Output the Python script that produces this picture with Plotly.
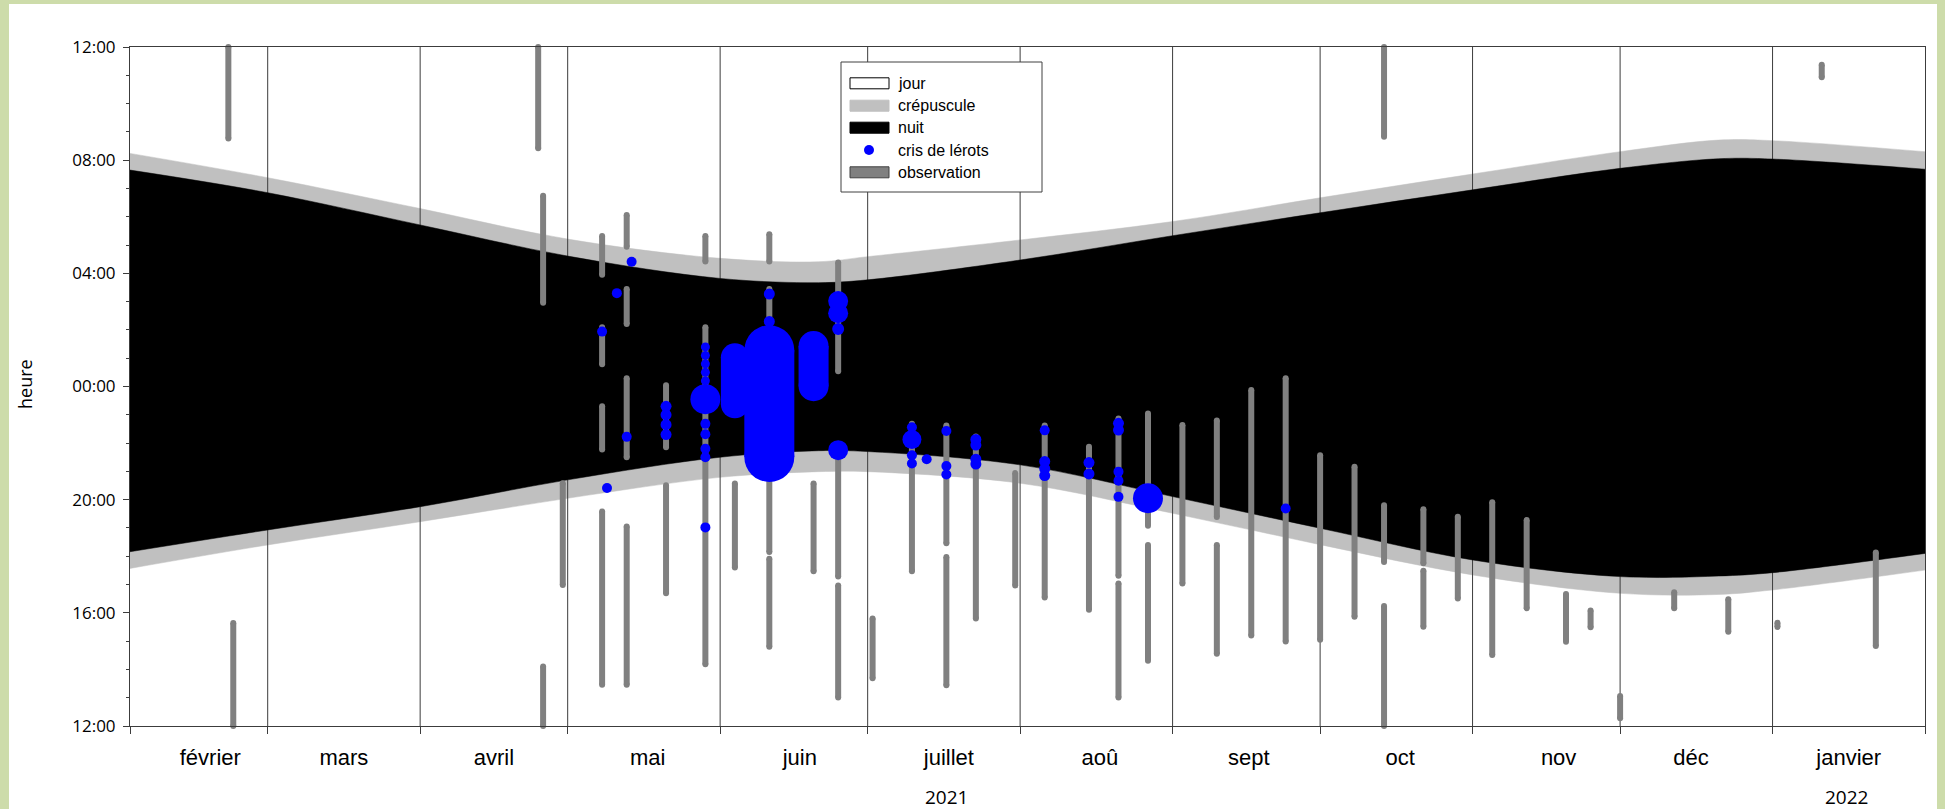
import plotly.graph_objects as go

# ---------------------------------------------------------------------------
# Heures sur l'axe vertical : heures d'horloge de midi (12) à midi le
# lendemain (36) ; après minuit on ajoute 24 (ex. 02:05 -> 26.08).
# ---------------------------------------------------------------------------

# Éphéméride (lever / aube civile / fin du crépuscule / coucher)
soleil_dates = ["2021-02-01", "2021-03-01", "2021-04-01", "2021-05-01",
                "2021-06-01", "2021-06-21", "2021-07-01", "2021-08-01",
                "2021-09-01", "2021-10-01", "2021-11-01", "2021-12-01",
                "2021-12-21", "2022-01-01", "2022-02-01"]
lever = [32.24, 31.38, 30.29, 29.21, 28.53, 28.41, 28.59, 29.18,
         29.83, 30.67, 31.51, 32.30, 32.71, 32.69, 32.30]
aube = [31.65, 30.85, 29.71, 28.61, 27.82, 27.67, 27.77, 28.47,
        29.33, 30.14, 30.95, 31.71, 32.05, 32.04, 31.68]
fin_crepuscule = [18.16, 18.93, 19.75, 20.70, 21.50, 21.73, 21.70, 21.23,
                  20.11, 18.99, 17.87, 17.28, 17.30, 17.42, 18.10]
coucher = [17.57, 18.40, 19.22, 20.05, 20.79, 20.99, 20.99, 20.58,
           19.52, 18.41, 17.34, 16.69, 16.65, 16.81, 17.51]

# Périodes d'observation (date, début, fin)
obs_dates = ["2021-02-21", "2021-02-22", "2021-04-25", "2021-04-26", "2021-04-26",
             "2021-04-30", "2021-05-08", "2021-05-08", "2021-05-08", "2021-05-08",
             "2021-05-13", "2021-05-13", "2021-05-13", "2021-05-13", "2021-05-21",
             "2021-05-21", "2021-05-29", "2021-05-29", "2021-06-04", "2021-06-11",
             "2021-06-11", "2021-06-11", "2021-06-20", "2021-06-25", "2021-06-25",
             "2021-06-25", "2021-07-02", "2021-07-10", "2021-07-17", "2021-07-17",
             "2021-07-23", "2021-07-31", "2021-08-06", "2021-08-15", "2021-08-21",
             "2021-08-21", "2021-08-27", "2021-08-27", "2021-09-03", "2021-09-10",
             "2021-09-10", "2021-09-17", "2021-09-24", "2021-10-01", "2021-10-08",
             "2021-10-14", "2021-10-14", "2021-10-14", "2021-10-22", "2021-10-22",
             "2021-10-29", "2021-11-05", "2021-11-12", "2021-11-20", "2021-11-25",
             "2021-12-01", "2021-12-12", "2021-12-23", "2022-01-02", "2022-01-11",
             "2022-01-22"]
obs_debut = [36.00, 15.64, 36.00, 30.74, 14.10,
             20.58, 29.32, 26.09, 23.30, 19.58,
             30.06, 27.45, 24.29, 19.05, 24.04,
             20.51, 29.32, 26.09, 20.57, 29.38,
             27.45, 17.91, 20.57, 28.38, 21.75,
             16.97, 15.80, 22.68, 22.62, 17.97,
             22.23, 20.94, 22.62, 21.87, 22.87,
             17.04, 23.05, 18.40, 22.64, 22.80,
             18.40, 23.88, 24.29, 21.57, 21.16,
             19.80, 16.24, 36.00, 19.66, 17.49,
             19.40, 19.91, 19.28, 16.67, 16.08,
             13.06, 16.73, 16.48, 15.65, 35.37,
             18.13]
obs_fin = [32.77, 12.00, 32.42, 26.96, 12.00,
           16.98, 27.95, 24.79, 21.77, 13.46,
           28.94, 26.21, 21.50, 13.46, 21.85,
           16.69, 28.42, 14.18, 17.60, 28.42,
           18.15, 14.80, 17.47, 24.54, 17.28,
           13.01, 13.69, 17.47, 18.46, 13.44,
           15.80, 16.97, 16.54, 16.11, 17.31,
           13.01, 19.08, 14.31, 17.04, 19.39,
           14.55, 15.20, 14.99, 15.05, 15.86,
           17.80, 12.00, 32.83, 17.75, 15.51,
           16.51, 14.51, 16.16, 14.98, 15.49,
           12.27, 16.16, 15.33, 15.50, 34.93,
           14.83]

# Cris de lérots (date, heure, taille du point)
cris_dates = ["2021-05-08", "2021-05-09", "2021-05-11", "2021-05-13", "2021-05-14",
              "2021-05-21", "2021-05-21", "2021-05-21", "2021-05-21",
              "2021-05-29", "2021-05-29", "2021-05-29", "2021-05-29", "2021-05-29",
              "2021-05-29", "2021-05-29", "2021-05-29", "2021-05-29", "2021-05-29",
              "2021-05-29",
              "2021-06-11", "2021-06-11",
              "2021-06-25", "2021-06-25", "2021-06-25", "2021-06-25",
              "2021-07-10", "2021-07-10", "2021-07-10", "2021-07-10",
              "2021-07-13",
              "2021-07-17", "2021-07-17", "2021-07-17",
              "2021-07-23", "2021-07-23", "2021-07-23", "2021-07-23",
              "2021-08-06", "2021-08-06", "2021-08-06", "2021-08-06",
              "2021-08-15", "2021-08-15",
              "2021-08-21", "2021-08-21", "2021-08-21", "2021-08-21", "2021-08-21",
              "2021-08-27", "2021-09-24"]
cris_heure = [25.94, 20.41, 27.30, 22.22, 28.41,
              23.30, 23.00, 22.65, 22.30,
              25.40, 25.10, 24.80, 24.50, 24.20,
              23.55, 22.68, 22.31, 21.80, 21.50,
              19.02,
              27.27, 26.30,
              27.02, 26.59, 26.03, 21.75,
              22.56, 22.13, 21.57, 21.28,
              21.43,
              22.43, 21.19, 20.89,
              22.13, 21.93, 21.43, 21.26,
              22.45, 21.35, 21.10, 20.85,
              21.31, 20.91,
              22.70, 22.46, 20.99, 20.67, 20.10,
              20.05, 19.69]
cris_taille = [10, 10, 10, 10, 10,
               11, 11, 11, 11,
               9, 9, 9, 9, 9,
               30, 10, 10, 10, 10,
               10,
               11, 11,
               20, 20, 12, 20,
               10, 19, 10, 10,
               10,
               10, 10, 10,
               11, 11, 11, 11,
               10, 11, 11, 11,
               11, 11,
               11, 11, 10, 10, 10,
               30, 10]

# Longues séries de cris (date, début, fin, taille)
serie_dates = ["2021-06-04", "2021-06-11", "2021-06-20"]
serie_debut = [25.03, 25.28, 25.43]
serie_fin = [23.37, 21.51, 24.01]
serie_taille = [28, 50, 30]

# Axe des dates
limites_mois = ["2021-02-01", "2021-03-01", "2021-04-01", "2021-05-01", "2021-06-01",
                "2021-07-01", "2021-08-01", "2021-09-01", "2021-10-01", "2021-11-01",
                "2021-12-01", "2022-01-01", "2022-02-01"]
mois_pos = ["2021-02-17 08:00", "2021-03-16 12:00", "2021-04-16", "2021-05-17 06:00",
            "2021-06-17 05:00", "2021-07-17 12:00", "2021-08-17 05:00", "2021-09-16 12:00",
            "2021-10-17 07:00", "2021-11-18 12:00", "2021-12-15 10:00", "2022-01-16 12:00"]
mois_noms = ["février", "mars", "avril", "mai", "juin", "juillet", "aoû", "sept",
             "oct", "nov", "déc", "janvier"]
annees_pos = ["2021-07-17", "2022-01-16"]
annees = ["2021", "2022"]

# Axe des heures
heures_pos = [12, 16, 20, 24, 28, 32, 36]
heures_txt = ["12:00", "16:00", "20:00", "00:00", "04:00", "08:00", "12:00"]

# ---------------------------------------------------------------------------
W, H = 1945, 809
ML, MR, MT, MB = 130, 20, 47, 83
PW, PH = W - ML - MR, H - MT - MB


def px_x(px):
    return (px - ML) / PW


def px_y(py):
    return (H - MB - py) / PH


GRIS_CLAIR = "#c0c0c0"
GRIS_OBS = "#808080"
BLEU = "#0000ff"
VERT = "#cddcaa"
SANS = "Liberation Sans, Arial, sans-serif"
UI = "Open Sans, DejaVu Sans, sans-serif"

fig = go.Figure()

# Crépuscule : bande grise entre coucher et lever (la nuit la recouvre ensuite)
fig.add_trace(go.Scatter(x=soleil_dates, y=coucher, mode="lines",
                         line=dict(color=GRIS_CLAIR, width=0.5, shape="spline"),
                         hoverinfo="skip", showlegend=False))
fig.add_trace(go.Scatter(x=soleil_dates, y=lever, mode="lines", fill="tonexty",
                         fillcolor=GRIS_CLAIR,
                         line=dict(color=GRIS_CLAIR, width=0.5, shape="spline"),
                         hoverinfo="skip", showlegend=False))

# Séparations des mois (sous la nuit)
gx, gy = [], []
for m in limites_mois[1:-1]:
    gx += [m, m, None]
    gy += [12, 36, None]
fig.add_trace(go.Scatter(x=gx, y=gy, mode="lines",
                         line=dict(color="#3c3c3c", width=1),
                         hoverinfo="skip", showlegend=False))

# Nuit
fig.add_trace(go.Scatter(x=soleil_dates, y=fin_crepuscule, mode="lines",
                         line=dict(color="black", width=0.5, shape="spline"),
                         hoverinfo="skip", showlegend=False))
fig.add_trace(go.Scatter(x=soleil_dates, y=aube, mode="lines", fill="tonexty",
                         fillcolor="black",
                         line=dict(color="black", width=0.5, shape="spline"),
                         hoverinfo="skip", showlegend=False))

# Observations : barres grises à bouts arrondis
ox, oy = [], []
for d, a, b in zip(obs_dates, obs_debut, obs_fin):
    ox += [d, d, None]
    oy += [a, b, None]
fig.add_trace(go.Scatter(x=ox, y=oy, mode="lines+markers",
                         line=dict(color=GRIS_OBS, width=6),
                         marker=dict(color=GRIS_OBS, size=6, opacity=1,
                                     line=dict(width=0)),
                         cliponaxis=False, hoverinfo="skip", showlegend=False))

# Longues séries de cris
for d, a, b, t in zip(serie_dates, serie_debut, serie_fin, serie_taille):
    fig.add_trace(go.Scatter(x=[d, d], y=[a, b], mode="lines+markers",
                             line=dict(color=BLEU, width=t),
                             marker=dict(color=BLEU, size=t, opacity=1,
                                         line=dict(width=0)),
                             hoverinfo="skip", showlegend=False))

# Cris ponctuels
fig.add_trace(go.Scatter(x=cris_dates, y=cris_heure, mode="markers",
                         marker=dict(color=BLEU, size=cris_taille, opacity=1,
                                     line=dict(width=0)),
                         showlegend=False))

# ---------------------------------------------------------------------------
shapes = [
    # panneau blanc sur le fond vert
    dict(type="rect", xref="paper", yref="paper", layer="below",
         x0=px_x(9), x1=px_x(1937), y0=px_y(830), y1=px_y(4),
         fillcolor="white", line=dict(width=0)),
]

# Légende
lx0, lx1, ly0, ly1 = 841, 1042, 62, 192
shapes.append(dict(type="rect", xref="paper", yref="paper", layer="above",
                   x0=px_x(lx0), x1=px_x(lx1), y0=px_y(ly1), y1=px_y(ly0),
                   fillcolor="white", line=dict(color="#404040", width=1)))
rangs = [83.3, 105.7, 127.7, 150.0, 172.3]
styles = [("white", "black"), (GRIS_CLAIR, GRIS_CLAIR), ("black", "black"),
          None, (GRIS_OBS, "#404040")]
libelles = ["jour", "crépuscule", "nuit", "cris de lérots", "observation"]
annotations = []
for yc, st, lib in zip(rangs, styles, libelles):
    if st is None:
        shapes.append(dict(type="circle", xref="paper", yref="paper", layer="above",
                           x0=px_x(864), x1=px_x(874), y0=px_y(yc + 5), y1=px_y(yc - 5),
                           fillcolor=BLEU, line=dict(width=0)))
    else:
        shapes.append(dict(type="rect", xref="paper", yref="paper", layer="above",
                           x0=px_x(850), x1=px_x(889), y0=px_y(yc + 5.5),
                           y1=px_y(yc - 5.5),
                           fillcolor=st[0], line=dict(color=st[1], width=1)))
    annotations.append(dict(xref="paper", yref="paper", x=px_x(896), y=px_y(yc),
                            text=lib, showarrow=False, xanchor="left",
                            yanchor="middle",
                            font=dict(family=SANS, size=16, color="black")))

# Années
for xa, txt in zip(annees_pos, annees):
    annotations.append(dict(xref="x", yref="paper", x=xa, y=px_y(797), text=txt,
                            showarrow=False, xanchor="center", yanchor="middle",
                            font=dict(family=UI, size=19, color="black")))

# Titre de l'axe vertical
annotations.append(dict(xref="paper", yref="paper", x=px_x(25), y=px_y(384),
                        text="heure", textangle=-90, showarrow=False,
                        xanchor="center", yanchor="middle",
                        font=dict(family=UI, size=18, color="black")))

fig.update_layout(
    width=W, height=H,
    margin=dict(l=ML, r=MR, t=MT, b=MB),
    paper_bgcolor=VERT,
    plot_bgcolor="white",
    shapes=shapes,
    annotations=annotations,
    showlegend=False,
    xaxis=dict(
        type="date",
        range=[limites_mois[0], limites_mois[-1]],
        showgrid=False, zeroline=False,
        showline=True, linecolor="#3c3c3c", linewidth=1, mirror=True,
        tickmode="array", tickvals=mois_pos, ticktext=mois_noms,
        ticks="", ticklabelstandoff=12,
        tickfont=dict(family=SANS, size=22, color="black"),
        minor=dict(tickmode="array", tickvals=limites_mois, ticks="outside",
                   ticklen=7, tickcolor="#3c3c3c", tickwidth=1, showgrid=False),
        automargin=False,
    ),
    yaxis=dict(
        range=[12, 36],
        showgrid=False, zeroline=False,
        showline=True, linecolor="#3c3c3c", linewidth=1, mirror=True,
        tickmode="array", tickvals=heures_pos, ticktext=heures_txt,
        ticks="outside", ticklen=6, tickcolor="#3c3c3c", tickwidth=1,
        ticklabelstandoff=4,
        tickfont=dict(family=UI, size=17, color="black"),
        minor=dict(tickmode="linear", tick0=12, dtick=1, ticks="outside",
                   ticklen=3, tickcolor="#3c3c3c", showgrid=False),
        automargin=False,
    ),
)

fig.write_html("out.html")
